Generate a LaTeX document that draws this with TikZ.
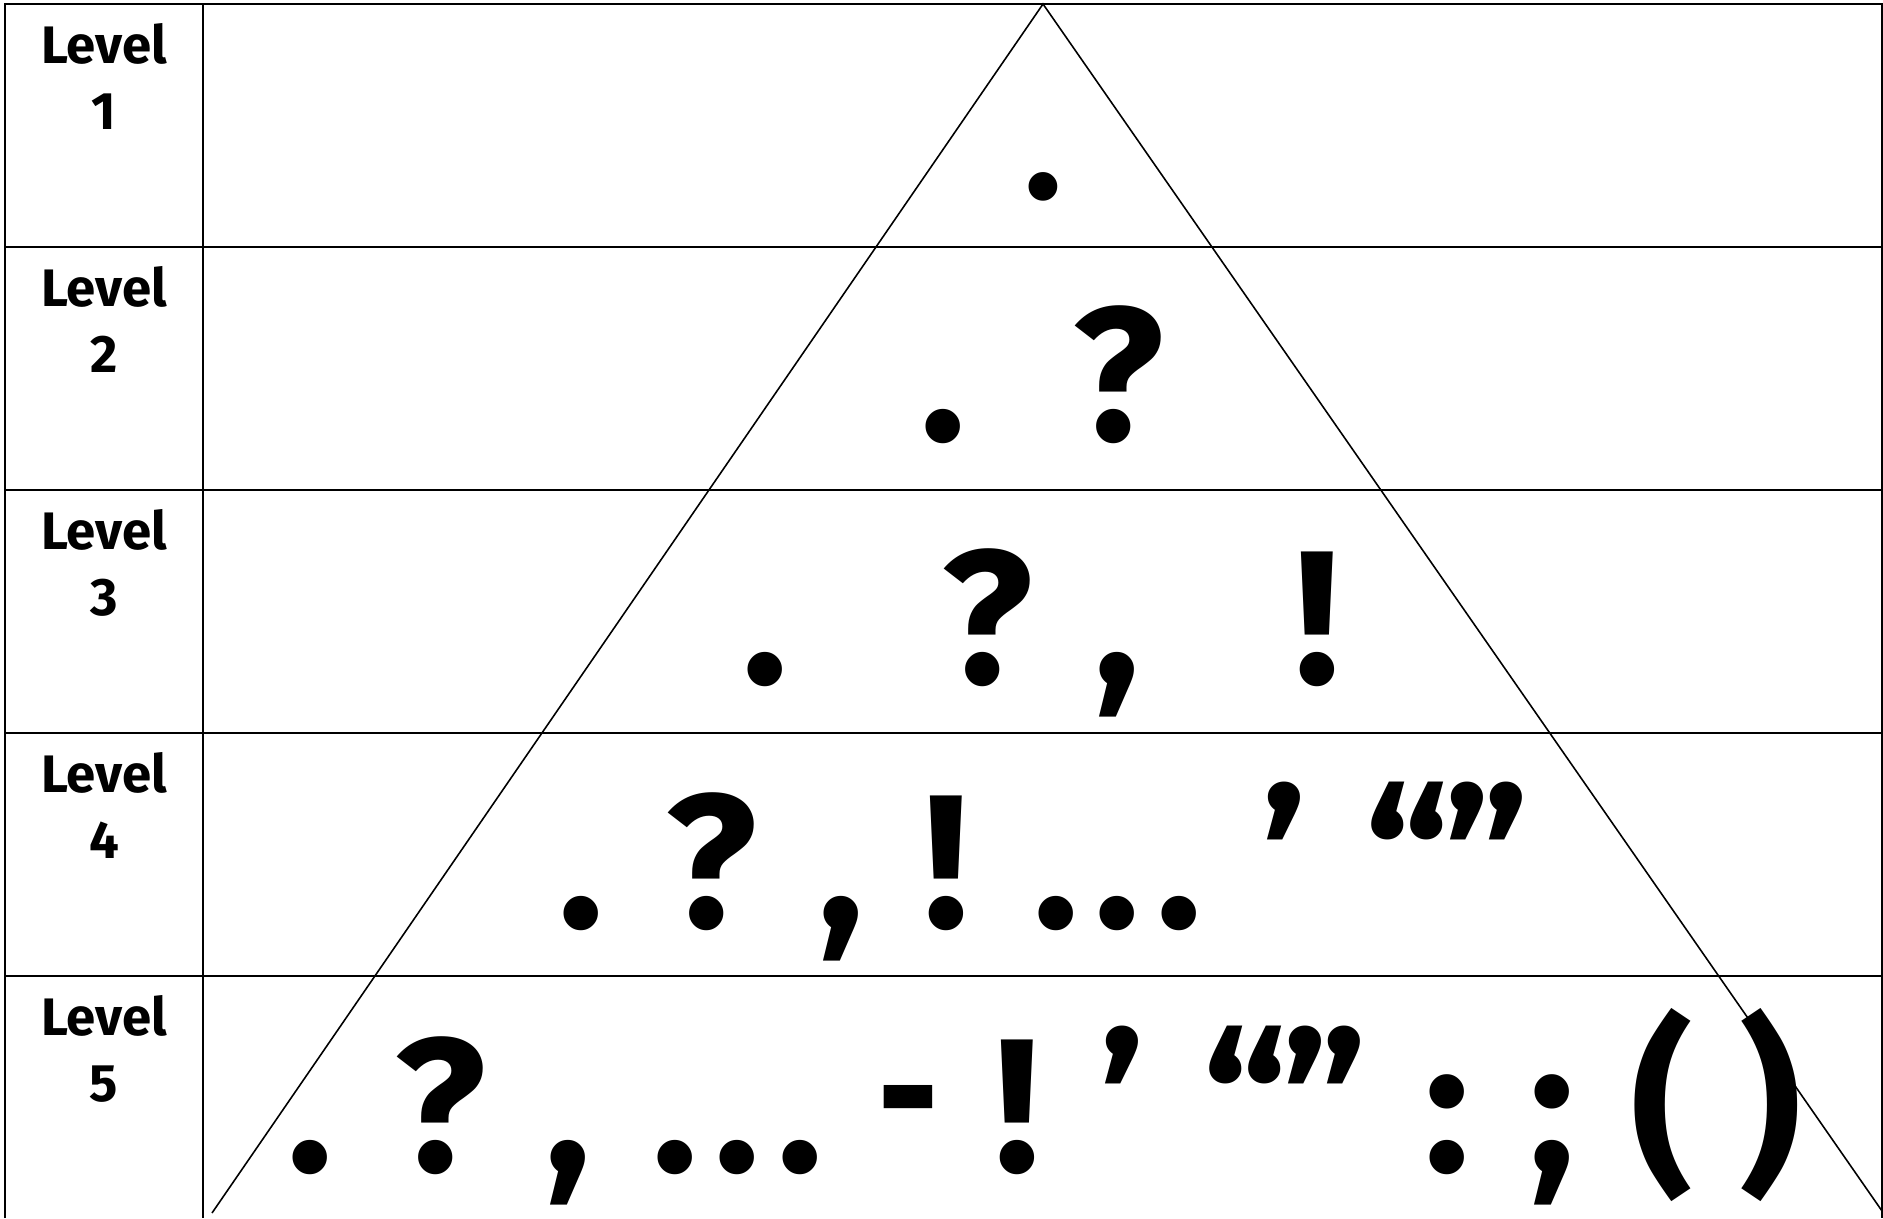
\documentclass[tikz,border=0pt]{standalone}
\usepackage{fontspec}
\setmainfont{Fira Sans}
\usepackage{tikz}

\begin{document}
\begin{tikzpicture}[
    x=0.01cm, y=-0.01cm,
    level/.style={font=\fontsize{15}{18.5}\selectfont\bfseries, align=center, anchor=base, inner sep=0pt},
    punct/.style={font=\fontsize{54}{60}\selectfont\bfseries, anchor=base, inner sep=0pt},
    grid/.style={line width=0.7pt},
    leg/.style={line width=0.45pt}
]
\useasboundingbox (0,0) rectangle (1883,1218);

% Row tops
\def\topA{4}
\def\topB{247}
\def\topC{490}
\def\topD{733}
\def\topE{976}

% Baselines of the punctuation
\def\rowA{198}
\def\rowB{440}
\def\rowC{683}
\def\rowD{927}
\def\rowE{1171}

% Table
\draw[grid] (5,1218) -- (5,\topA) -- (1882,\topA) -- (1882,1218);
\draw[grid] (203,\topA) -- (203,1218);
\draw[grid] (5,\topB) -- (1882,\topB);
\draw[grid] (5,\topC) -- (1882,\topC);
\draw[grid] (5,\topD) -- (1882,\topD);
\draw[grid] (5,\topE) -- (1882,\topE);

% Triangle
\coordinate (apex) at (1043,4);
\coordinate (baseL) at (212,1213);
\coordinate (baseR) at (1882,1211);
\draw[leg] (baseL) -- (apex) -- (baseR);

% Level labels (base = last line)
\node[level] (lvlA) at (104,\topA+125) {Level\\1};
\node[level] (lvlB) at (104,\topB+125) {Level\\2};
\node[level] (lvlC) at (104,\topC+125) {Level\\3};
\node[level] (lvlD) at (104,\topD+125) {Level\\4};
\node[level] (lvlE) at (104,\topE+125) {Level\\5};

% Level 1
\node[punct, font=\fontsize{45}{50}\selectfont\bfseries] (pA1) at (1043,\rowA) {.};

% Level 2
\node[punct] (pB1) at (943,\rowB) {.};
\node[punct] (pB2) at (1118,\rowB) {?};

% Level 3
\node[punct] (pC1) at (765,\rowC) {.};
\node[punct] (pC2) at (987,\rowC) {?};
\node[punct] (pC3) at (1117,\rowC) {,};
\node[punct] (pC4) at (1317,\rowC) {!};

% Level 4
\node[punct] (pD1) at (581,\rowD) {.};
\node[punct] (pD2) at (711,\rowD) {?};
\node[punct] (pD3) at (841,\rowD) {,};
\node[punct] (pD4) at (946,\rowD) {!};
\node[punct] (pD5a) at (1056,\rowD) {.};
\node[punct] (pD5b) at (1117,\rowD) {.};
\node[punct] (pD5c) at (1179,\rowD) {.};
\node[punct] (pD6) at (1285,\rowD) {’};
\node[punct] (pD7) at (1407,\rowD) {“};
\node[punct] (pD8) at (1487,\rowD) {”};

% Level 5
\node[punct] (pE1) at (310,\rowE) {.};
\node[punct] (pE2) at (440,\rowE) {?};
\node[punct] (pE3) at (568,\rowE) {,};
\node[punct] (pE4a) at (675,\rowE) {.};
\node[punct] (pE4b) at (737,\rowE) {.};
\node[punct] (pE4c) at (800,\rowE) {.};
\node[punct, xscale=0.8, yshift=4pt] (pE5) at (908,\rowE) {-};
\node[punct] (pE6) at (1017,\rowE) {!};
\node[punct] (pE7) at (1123,\rowE) {’};
\node[punct] (pE8) at (1245,\rowE) {“};
\node[punct] (pE9) at (1325,\rowE) {”};
\node[punct] (pE10) at (1447,\rowE) {:};
\node[punct] (pE11) at (1552,\rowE) {;};
\node[punct] (pE12) at (1662,\rowE) {(};
\node[punct] (pE13) at (1770,\rowE) {)};

\end{tikzpicture}
\end{document}
